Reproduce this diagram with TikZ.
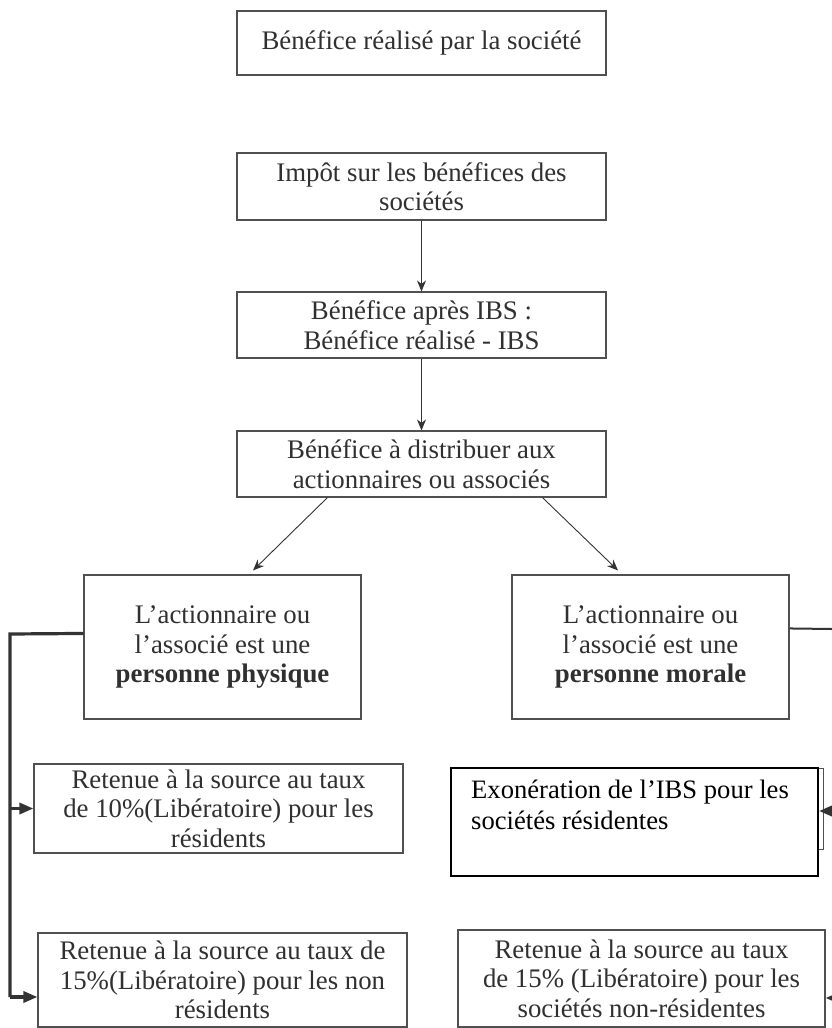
\documentclass[tikz,border=0pt]{standalone}
\usepackage{fontspec}
\setmainfont{Liberation Serif}
\usetikzlibrary{arrows.meta,calc}
\definecolor{boxgray}{HTML}{505050}
\definecolor{txtgray}{HTML}{303030}
\definecolor{lnk}{HTML}{333333}
\begin{document}
\begin{tikzpicture}[x=1pt,y=-1pt,
  box/.style={draw=boxgray, line width=1.1pt, text=txtgray, align=center, inner sep=0pt,
    font=\fontsize{26.8}{29.5}\selectfont},
  arr/.style={draw=lnk, line width=0.9pt, -{Stealth[length=11pt,width=9pt]}},
  thk/.style={draw=lnk, line width=3.2pt},
  thkarr/.style={draw=lnk, line width=3.2pt, -{Triangle[length=14pt,width=11pt]}},
]
\useasboundingbox (0,0) rectangle (832,1028);
\fill[white] (0,0) rectangle (832,1028);

\node[box, minimum width=369pt, minimum height=64pt] (ben) at (421.5,43) {Bénéfice réalisé par la société};
\node[box, minimum width=369pt, minimum height=67pt] (imp) at (421.5,186.5) {Impôt sur les bénéfices des\\sociétés};
\node[box, minimum width=369pt, minimum height=66pt] (apres) at (421.5,325) {Bénéfice après IBS :\\Bénéfice réalisé - IBS};
\node[box, minimum width=369pt, minimum height=66pt] (dist) at (421.5,464) {Bénéfice à distribuer aux\\actionnaires ou associés};

\node[box, minimum width=277pt, minimum height=144pt] (phys) at (222.5,647) {L’actionnaire ou\\l’associé est une\\\textbf{personne physique}};
\node[box, minimum width=277pt, minimum height=144pt] (mor) at (650.5,647) {L’actionnaire ou\\l’associé est une\\\textbf{personne morale}};

\node[box, minimum width=369pt, minimum height=89pt] (ret10) at (218.5,808.5) {Retenue à la source au taux\\de 10\%(Libératoire) pour les\\résidents};
\node[box, minimum width=369pt, minimum height=94pt] (ret15) at (222.5,980) {Retenue à la source au taux de\\15\%(Libératoire) pour les non\\résidents};

\node[draw=boxgray, line width=0.8pt, minimum width=372pt, minimum height=81pt, inner sep=0pt] (exoback) at (637,808.5) {};
\node[draw=black, fill=white, line width=2pt, minimum width=367pt, minimum height=108pt, inner sep=0pt] (exo) at (634.5,822) {};
\node[anchor=north west, align=left, inner sep=0pt, text=black, font=\fontsize{26.6}{31}\selectfont] (exot) at (471,780) {Exonération de l’IBS pour les\\sociétés résidentes};

\node[box, minimum width=367pt, minimum height=97pt] (retm) at (641.5,978.5) {Retenue à la source au taux\\de 15\% (Libératoire) pour les\\sociétés non-résidentes};

% vertical arrows
\draw[arr] (imp) -- (apres);
\draw[arr] (apres) -- (dist);
% diagonal arrows
\coordinate (dl) at ($(dist.south west)+(91,0)$);
\coordinate (dr) at ($(dist.south west)+(306,0)$);
\coordinate (tl) at ($(phys.north)+(30.5,-4)$);
\coordinate (tr) at ($(mor.north)+(-32.5,-4)$);
\draw[arr] (dl) -- (tl);
\draw[arr] (dr) -- (tr);

% left bus
\coordinate (physout) at ($(phys.north west)+(0,59)$);
\coordinate (busTop) at (10,634);
\coordinate (busBot) at (10,997);
\draw[thk] (physout) -- (busTop) -- (busBot);
\draw[thkarr] (busTop |- ret10.west) -- (ret10.west);
\draw[thkarr] (busBot) -- (ret15.west |- busBot);

% right bus
\coordinate (morout) at ($(mor.north east)+(0,54)$);
\coordinate (rTop) at (832,629);
\coordinate (rMid) at (834,811);
\coordinate (rBot) at (834,998);
\draw[draw=lnk, line width=2pt] (morout) -- (rTop);
\draw[thkarr] (rMid) -- (exo.east |- rMid);
\draw[thkarr] (rBot) -- (retm.east |- rBot);
\end{tikzpicture}
\end{document}
